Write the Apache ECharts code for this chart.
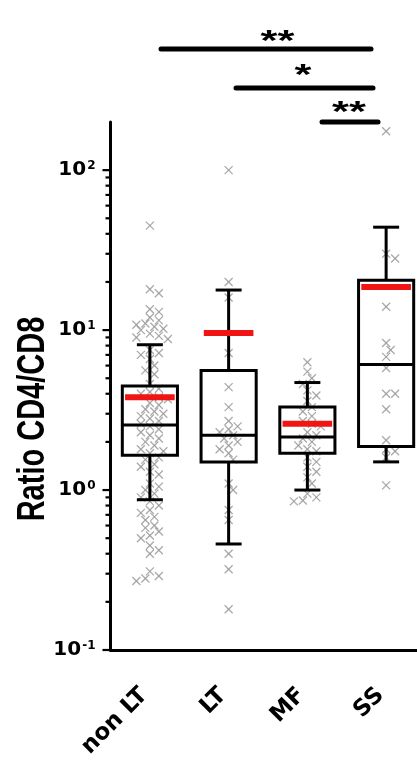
<!DOCTYPE html>
<html><head><meta charset="utf-8">
<script src="https://cdn.jsdelivr.net/npm/echarts@6/dist/echarts.min.js"></script>
<style>html,body{margin:0;padding:0;background:#fff}#c{width:417px;height:777px}</style>
</head><body><div id="c"></div>
<script>
// ---- data ----
const categories = ['non LT', 'LT', 'MF', 'SS'];
const whiskerLow  = [0.87, 0.46, 1.0, 1.5];
const q1          = [1.65, 1.5, 1.7, 1.87];
const median      = [2.55, 2.2, 2.15, 6.1];
const q3          = [4.47, 5.6, 3.3, 20.5];
const whiskerHigh = [8.1, 17.8, 4.7, 44];
const means       = [3.8, 9.6, 2.6, 18.6];

const ptsNonLT = [45, 18, 17, 13.5, 13, 12, 11.5, 11, 10.8, 10.5, 10.2, 10, 9.5, 9.2, 9, 8.8, 7.5, 7.2, 7, 6.6,
  6, 5.6, 5.3, 4.6, 4.3, 4.1, 4.0, 3.8, 3.7, 3.5, 3.4, 3.2, 3.1, 3.0, 2.9, 2.8, 2.7, 2.6, 2.5, 2.4, 2.3, 2.2,
  2.1, 2.0, 1.9, 1.8, 1.75, 1.7, 1.6, 1.55, 1.45, 1.4, 1.3, 1.25, 1.1, 1.05, 1.0, 0.95, 0.9, 0.85, 0.8, 0.75,
  0.72, 0.68, 0.65, 0.6, 0.58, 0.55, 0.52, 0.5, 0.45, 0.42, 0.4, 0.31, 0.29, 0.28, 0.27];
const ptsLT = [100, 20, 16, 7.2, 4.4, 3.3, 2.7, 2.5, 2.4, 2.3, 2.2, 2.1, 2.0, 1.9, 1.8, 1.7, 1.55, 1.1, 1.0,
  0.75, 0.65, 0.4, 0.32, 0.18];
const ptsMF = [6.3, 5.5, 5.0, 4.6, 4.2, 3.9, 3.6, 3.3, 3.1, 2.9, 2.7, 2.6, 2.5, 2.3, 2.2, 2.1, 2.0, 1.9, 1.8,
  1.75, 1.6, 1.5, 1.4, 1.3, 1.2, 1.1, 0.95, 0.9, 0.86, 0.85];
const ptsSS = [175, 30, 28, 14, 8.3, 7.5, 6.8, 5.8, 4.0, 4.0, 3.2, 2.05, 1.8, 1.75, 1.6, 1.07];

const yTickValues = [0.1, 1, 10, 100];
const yTickExponents = ['-1', '0', '1', '2'];
const sigLabels = ['**', '*', '**'];
const yTitle = 'Ratio CD4/CD8';

// ---- build ----
const groups = [ptsNonLT, ptsLT, ptsMF, ptsSS];
const boxRows = categories.map((c, i) => [i, whiskerLow[i], q1[i], median[i], q3[i], whiskerHigh[i], means[i]]);
const tickRows = [];
yTickValues.forEach(v => tickRows.push([-0.5, v, 1]));
yTickValues.forEach(v => { for (let m = 2; m <= 9; m++) { const t = m * v; if (t < 190) tickRows.push([-0.5, t, 0]); } });

const chart = echarts.init(document.getElementById('c'), null, { renderer: 'canvas' });
const FONT = 'DejaVu Sans';

function xShape(cx, cy, r) {
  return [
    { type: 'line', shape: { x1: cx - r, y1: cy - r, x2: cx + r, y2: cy + r } },
    { type: 'line', shape: { x1: cx - r, y1: cy + r, x2: cx + r, y2: cy - r } }
  ];
}

const option = {
  animation: false,
  backgroundColor: '#fff',
  grid: { left: 110.5, top: 122, width: 315, height: 528, containLabel: false, outerBoundsMode: 'none' },
  xAxis: [{
    type: 'category', data: categories, boundaryGap: true,
    axisLine: { onZero: false, lineStyle: { color: '#000', width: 3 } },
    axisTick: { alignWithLabel: true, length: 7, lineStyle: { color: '#000', width: 2.5 } },
    axisLabel: { rotate: 45, margin: 36, padding: [0, 8, 0, 0], color: '#000', fontSize: 23, fontWeight: 'bold', fontFamily: FONT },
    splitLine: { show: false }
  }, {
    type: 'value', min: -0.5, max: 3.5, show: false
  }],
  yAxis: [{
    type: 'log', logBase: 10, min: 0.1, max: 200,
    axisLine: { show: true, onZero: false, lineStyle: { color: '#000', width: 3 } },
    axisTick: { show: false },
    splitLine: { show: false },
    axisLabel: {
      margin: 15, color: '#000',
      formatter: v => {
        const idx = yTickValues.findIndex(t => Math.abs(Math.log10(v) - Math.log10(t)) < 1e-6);
        return idx < 0 ? '' : '{b|10}{s|' + yTickExponents[idx] + '}';
      },
      rich: {
        b: { fontSize: 20, fontWeight: 'bold', fontFamily: FONT, color: '#000' },
        s: { fontSize: 12, fontWeight: 'bold', fontFamily: FONT, color: '#000', verticalAlign: 'top', padding: [0, 0, 0, 1] }
      }
    }
  }],
  series: [
    {
      name: 'yticks', type: 'custom', xAxisIndex: 1, yAxisIndex: 0, data: tickRows,
      encode: { x: 0, y: 1 }, z: 5, silent: true,
      renderItem: (params, api) => {
        const p = api.coord([api.value(0), api.value(1)]);
        const len = api.value(2) ? 8 : 5;
        return { type: 'line', shape: { x1: p[0] - len, y1: p[1], x2: p[0], y2: p[1] },
          style: { stroke: '#000', lineWidth: 2.2 } };
      }
    },
    {
      name: 'points', type: 'custom', xAxisIndex: 1, yAxisIndex: 0, data: [],
      encode: { x: 0, y: 1 }, z: 2, silent: true,
      renderItem: (params, api) => {
        const p = api.coord([api.value(0), api.value(1)]);
        return { type: 'group', children: xShape(p[0], p[1], 4).map(c => Object.assign(c, {
          style: { stroke: '#999', lineWidth: 1.3, opacity: 0.85 } })) };
      }
    },
    {
      name: 'boxes', type: 'custom', xAxisIndex: 1, yAxisIndex: 0, data: boxRows,
      encode: { x: 0, y: [1, 2, 3, 4, 5, 6] }, z: 4, silent: true,
      renderItem: (params, api) => {
        const c = api.value(0);
        const bw = api.size([1, 0], [c, 1])[0];
        const half = bw * 0.35, cap = bw * 0.165, mh = bw * 0.315;
        const Y = k => api.coord([c, api.value(k)])[1];
        const x = api.coord([c, api.value(3)])[0];
        const yLo = Y(1), yQ1 = Y(2), yMed = Y(3), yQ3 = Y(4), yHi = Y(5), yMean = Y(6);
        const blk = { stroke: '#000', lineWidth: 3, fill: null };
        return { type: 'group', children: [
          { type: 'line', shape: { x1: x, y1: yQ3, x2: x, y2: yHi }, style: blk },
          { type: 'line', shape: { x1: x, y1: yQ1, x2: x, y2: yLo }, style: blk },
          { type: 'line', shape: { x1: x - cap, y1: yHi, x2: x + cap, y2: yHi }, style: blk },
          { type: 'line', shape: { x1: x - cap, y1: yLo, x2: x + cap, y2: yLo }, style: blk },
          { type: 'rect', shape: { x: x - half, y: yQ3, width: 2 * half, height: yQ1 - yQ3 }, style: blk },
          { type: 'line', shape: { x1: x - half, y1: yMed, x2: x + half, y2: yMed }, style: blk },
          { type: 'line', shape: { x1: x - mh, y1: yMean, x2: x + mh, y2: yMean },
            style: { stroke: '#f01414', lineWidth: 6 } }
        ] };
      }
    }
  ],
  graphic: [
    { type: 'text', x: 33, y: 419, rotation: Math.PI / 2, scaleY: 1.35,
      style: { text: yTitle, fontSize: 29, fontWeight: 'bold', fontFamily: 'Liberation Sans',
        align: 'center', verticalAlign: 'middle', fill: '#000' } },
    { type: 'line', shape: { x1: 161, y1: 49, x2: 371, y2: 49 }, style: { stroke: '#000', lineWidth: 5, lineCap: 'round' } },
    { type: 'line', shape: { x1: 236, y1: 88, x2: 373, y2: 88 }, style: { stroke: '#000', lineWidth: 5, lineCap: 'round' } },
    { type: 'line', shape: { x1: 322, y1: 122, x2: 378, y2: 122 }, style: { stroke: '#000', lineWidth: 5, lineCap: 'round' } },
    { type: 'text', x: 277.5, y: 42, scaleX: 1.45,
      style: { text: sigLabels[0], fontSize: 30, fontWeight: 'bold', fontFamily: 'Liberation Sans', align: 'center', verticalAlign: 'middle', fill: '#000' } },
    { type: 'text', x: 303, y: 76, scaleX: 1.45,
      style: { text: sigLabels[1], fontSize: 30, fontWeight: 'bold', fontFamily: 'Liberation Sans', align: 'center', verticalAlign: 'middle', fill: '#000' } },
    { type: 'text', x: 349, y: 113, scaleX: 1.45,
      style: { text: sigLabels[2], fontSize: 30, fontWeight: 'bold', fontFamily: 'Liberation Sans', align: 'center', verticalAlign: 'middle', fill: '#000' } }
  ]
};
chart.setOption(option);

// beeswarm jitter of points computed in pixel space via the chart's own scales
const STEP = 4.5, D = 7.5, MAXOFF = 19;
const pointRows = [];
groups.forEach((vals, gi) => {
  const cx = chart.convertToPixel({ xAxisIndex: 1 }, gi);
  const unit = chart.convertToPixel({ xAxisIndex: 1 }, gi + 1) - cx;
  const placed = [];
  vals.forEach(v => {
    const py = chart.convertToPixel({ yAxisIndex: 0 }, v);
    let best = 0, bestScore = -Infinity;
    for (let k = 0; k < 20; k++) {
      const off = (k % 2 ? 1 : -1) * Math.ceil(k / 2) * STEP;
      if (Math.abs(off) > MAXOFF) break;
      let md = Infinity;
      placed.forEach(q => { md = Math.min(md, Math.hypot(q[0] - off, q[1] - py)); });
      if (md >= D) { best = off; bestScore = Infinity; break; }
      if (md > bestScore) { bestScore = md; best = off; }
    }
    placed.push([best, py]);
    pointRows.push([gi + best / unit, v]);
  });
});
chart.setOption({ series: [{}, { data: pointRows }, {}] });
</script></body></html>
